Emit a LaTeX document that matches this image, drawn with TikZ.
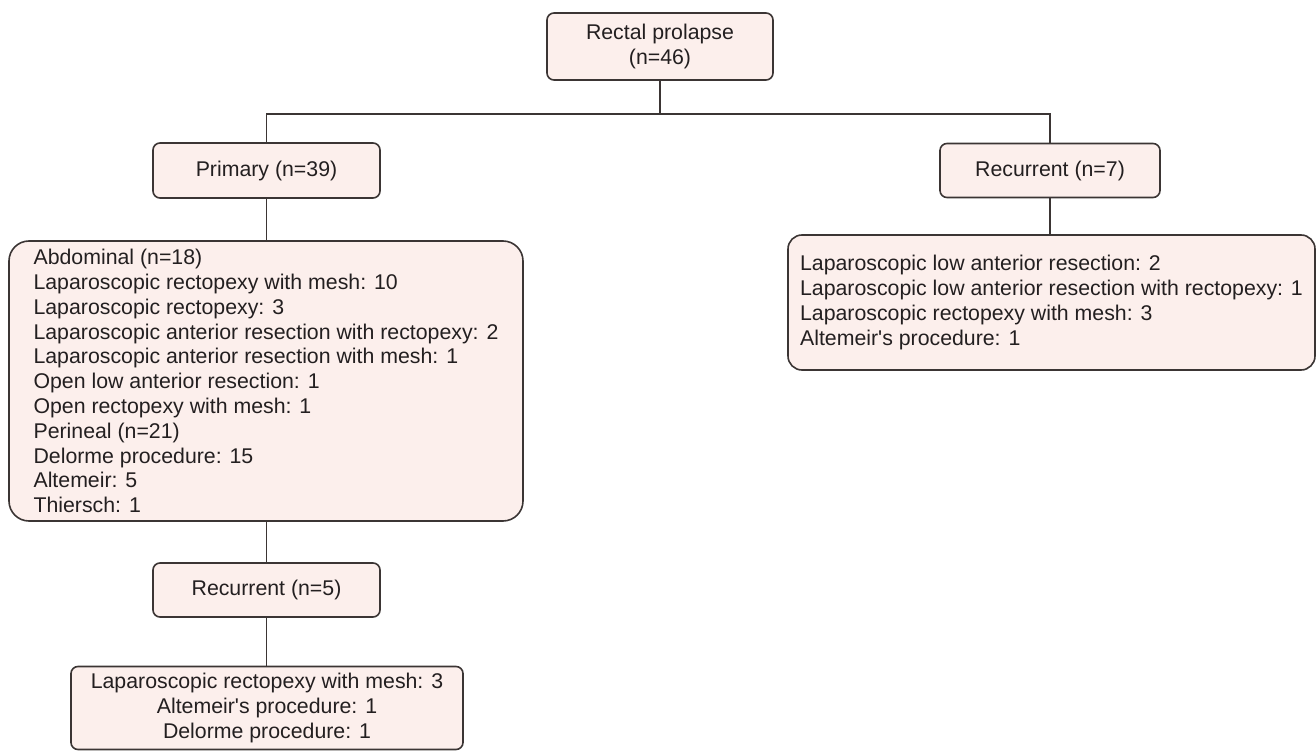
\documentclass[tikz,border=0pt]{standalone}
\usepackage{fontspec}
\setmainfont{Liberation Sans}
\definecolor{boxfill}{HTML}{FCEFEC}
\definecolor{linec}{HTML}{3B3534}
\definecolor{textc}{HTML}{231F20}
\begin{document}
\begin{tikzpicture}[x=1pt,y=-1pt,
  every node/.style={font=\fontsize{21.3}{24.8}\selectfont, text=textc},
  smallbox/.style={draw=linec, fill=boxfill, line width=1.6pt, rounded corners=7pt, inner sep=0pt, align=center},
  bigbox/.style={draw=linec, fill=boxfill, line width=1.6pt, rounded corners=20pt, inner sep=0pt, align=left},
  link/.style={draw=linec, line width=1.6pt}]
\useasboundingbox (0,0) rectangle (1316,751);
\node[smallbox, minimum width=226pt, minimum height=67pt] (top) at (660,46.5) {Rectal prolapse\\(n=46)};
\node[smallbox, minimum width=227pt, minimum height=55pt] (prim) at (266.5,170.5) {Primary (n=39)};
\node[smallbox, minimum width=220pt, minimum height=54pt] (rec7) at (1050,170.5) {Recurrent (n=7)};
\node[bigbox, minimum width=514pt, minimum height=280pt] (abd) at (266,381) {Abdominal (n=18)\\
Laparoscopic rectopexy with mesh: 10\\
Laparoscopic rectopexy: 3\\
Laparoscopic anterior resection with rectopexy: 2\\
Laparoscopic anterior resection with mesh: 1\\
Open low anterior resection: 1\\
Open rectopexy with mesh: 1\\
Perineal (n=21)\\
Delorme procedure: 15\\
Altemeir: 5\\
Thiersch: 1};
\node[bigbox, rounded corners=14pt, minimum width=527pt, minimum height=135pt] (rproc) at (1051.5,302.5) {Laparoscopic low anterior resection: 2\\
Laparoscopic low anterior resection with rectopexy: 1\\
Laparoscopic rectopexy with mesh: 3\\
Altemeir\textquotesingle s procedure: 1};
\node[smallbox, minimum width=227pt, minimum height=54pt] (rec5) at (266.5,590) {Recurrent (n=5)};
\node[smallbox, minimum width=392pt, minimum height=83pt] (lproc) at (267,708) {Laparoscopic rectopexy with mesh: 3\\
Altemeir\textquotesingle s procedure: 1\\
Delorme procedure: 1};
\coordinate (j) at (660,114);
\draw[link] (top.south) -- (j);
\draw[link] (prim.north) -- (prim.north |- j) -- (rec7.north |- j) -- (rec7.north);
\draw[link] (prim.south) -- (abd.north -| prim.south);
\draw[link] (rec7.south) -- (rproc.north -| rec7.south);
\draw[link] (abd.south -| rec5.north) -- (rec5.north);
\draw[link] (rec5.south) -- (lproc.north -| rec5.south);
\end{tikzpicture}
\end{document}
